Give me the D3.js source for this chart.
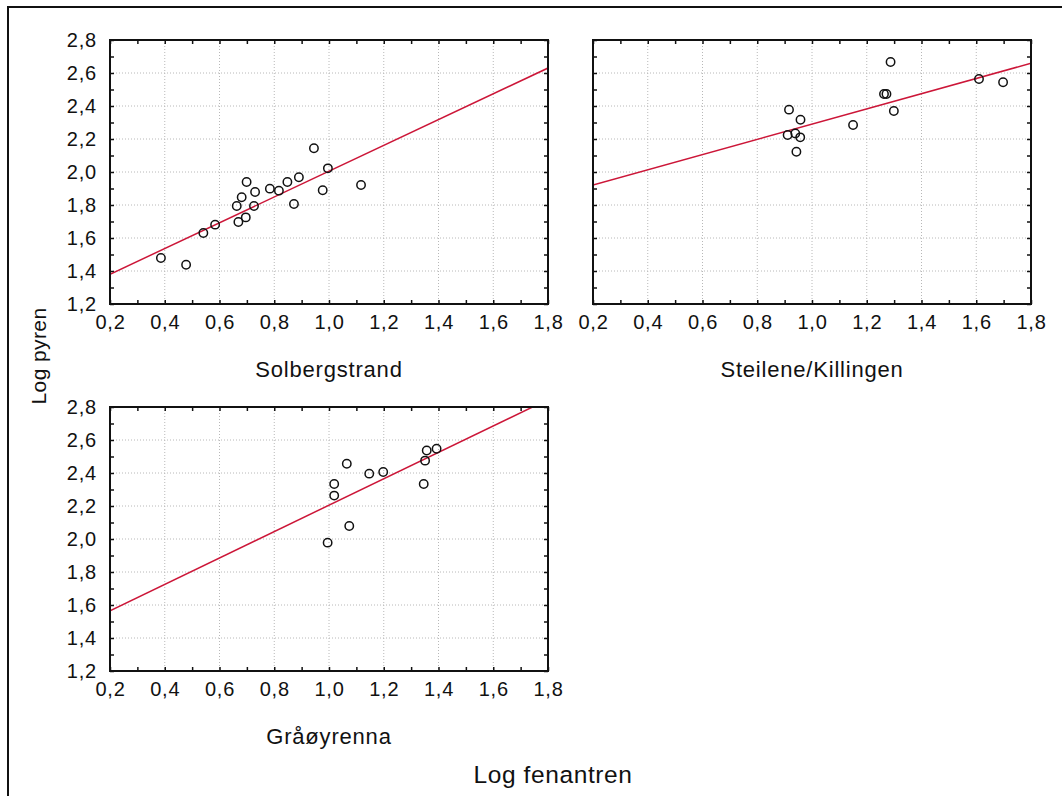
<!DOCTYPE html>
<html>
<head>
<meta charset="utf-8">
<script src="https://cdn.jsdelivr.net/npm/d3@7"></script>
<style>
  html, body { margin: 0; padding: 0; background: #fff; }
  svg { display: block; font-family: "Liberation Sans", Arial, sans-serif; }
</style>
</head>
<body>
<svg id="chart" width="1062" height="796"></svg>
<script>
// Station names (one panel each)
const stations = ["Solbergstrand", "Steilene/Killingen", "Gråøyrenna"];

// Log fenantren / Log pyren per station
const solbergX = [0.386, 0.478, 0.541, 0.584, 0.669, 0.663, 0.681, 0.699, 0.730, 0.726, 0.696, 0.784, 0.817, 0.848, 0.890, 0.872, 0.945, 0.977, 0.996, 1.117];
const solbergY = [1.479, 1.438, 1.630, 1.681, 1.697, 1.794, 1.847, 1.939, 1.879, 1.794, 1.725, 1.899, 1.887, 1.939, 1.968, 1.806, 2.144, 1.889, 2.022, 1.921];

const steileneX = [0.916, 0.958, 0.911, 0.939, 0.957, 0.943, 1.150, 1.263, 1.272, 1.287, 1.299, 1.610, 1.698];
const steileneY = [2.378, 2.317, 2.224, 2.234, 2.210, 2.123, 2.285, 2.473, 2.473, 2.667, 2.370, 2.564, 2.544];

const graaX = [0.995, 1.074, 1.019, 1.019, 1.065, 1.147, 1.198, 1.346, 1.351, 1.357, 1.393];
const graaY = [1.978, 2.079, 2.263, 2.333, 2.456, 2.396, 2.406, 2.333, 2.475, 2.536, 2.547];

// Fitted regression lines: [y at x=0.2, y at x=1.8]
const fitSolberg = [1.380, 2.630];
const fitSteilene = [1.921, 2.659];
const fitGraa = [1.565, 2.845];
const fitRange = [0.2, 1.8];

// Axis ticks
const xTicks = [0.2, 0.4, 0.6, 0.8, 1.0, 1.2, 1.4, 1.6, 1.8];
const yTicks = [1.2, 1.4, 1.6, 1.8, 2.0, 2.2, 2.4, 2.6, 2.8];
const xTitle = "Log fenantren";
const yTitle = "Log pyren";

const fmt = d3.formatLocale({ decimal: ",", thousands: " ", grouping: [3], currency: ["", ""] }).format(".1f");

const svg = d3.select("#chart");

// Outer frame
svg.append("rect")
  .attr("x", 8).attr("y", 7).attr("width", 1070).attr("height", 810)
  .attr("fill", "#fff").attr("stroke", "#111").attr("stroke-width", 2);

const panels = [
  { name: stations[0], xs: solbergX, ys: solbergY, fit: fitSolberg, left: 110, right: 548, top: 40, bottom: 304, yLabels: true },
  { name: stations[1], xs: steileneX, ys: steileneY, fit: fitSteilene, left: 593, right: 1031, top: 40, bottom: 304, yLabels: false },
  { name: stations[2], xs: graaX, ys: graaY, fit: fitGraa, left: 110, right: 548, top: 407, bottom: 671, yLabels: true }
];

const minorX = d3.range(2, 19).map(d => d / 10);
const minorY = d3.range(12, 29).map(d => d / 10);

panels.forEach((p, i) => {
  const x = d3.scaleLinear().domain([0.2, 1.8]).range([p.left, p.right]);
  const y = d3.scaleLinear().domain([1.2, 2.8]).range([p.bottom, p.top]);
  const w = p.right - p.left, h = p.bottom - p.top;
  const g = svg.append("g");

  // Dotted grid
  g.append("g").selectAll("line").data(xTicks.slice(1, -1)).join("line")
    .attr("x1", d => x(d)).attr("x2", d => x(d)).attr("y1", p.top).attr("y2", p.bottom)
    .attr("stroke", "#b8b8b8").attr("stroke-width", 1).attr("stroke-dasharray", "1,2");
  g.append("g").selectAll("line").data(yTicks.slice(1, -1)).join("line")
    .attr("y1", d => y(d)).attr("y2", d => y(d)).attr("x1", p.left).attr("x2", p.right)
    .attr("stroke", "#b8b8b8").attr("stroke-width", 1).attr("stroke-dasharray", "1,2");

  // Inward ticks on all four sides (every 0.1)
  const tickLen = 4;
  const axisStyle = sel => {
    sel.select(".domain").remove();
    sel.selectAll(".tick line").attr("stroke", "#111").attr("stroke-width", 1.5);
    sel.selectAll(".tick text").remove();
  };
  g.append("g").attr("transform", `translate(0,${p.bottom})`)
    .call(d3.axisTop(x).tickValues(minorX).tickSize(tickLen)).call(axisStyle);
  g.append("g").attr("transform", `translate(0,${p.top})`)
    .call(d3.axisBottom(x).tickValues(minorX).tickSize(tickLen)).call(axisStyle);
  g.append("g").attr("transform", `translate(${p.left},0)`)
    .call(d3.axisRight(y).tickValues(minorY).tickSize(tickLen)).call(axisStyle);
  g.append("g").attr("transform", `translate(${p.right},0)`)
    .call(d3.axisLeft(y).tickValues(minorY).tickSize(tickLen)).call(axisStyle);

  // Tick labels
  const xl = g.append("g").attr("transform", `translate(0,${p.bottom})`)
    .call(d3.axisBottom(x).tickValues(xTicks).tickSize(0).tickPadding(25).tickFormat(fmt));
  xl.select(".domain").remove();
  xl.selectAll("text").attr("font-size", 20).attr("fill", "#111")
    .attr("font-family", "Liberation Sans, Arial, sans-serif").attr("letter-spacing", 0.8).attr("dy", 0);

  if (p.yLabels) {
    const yl = g.append("g").attr("transform", `translate(${p.left},0)`)
      .call(d3.axisLeft(y).tickValues(yTicks).tickSize(0).tickPadding(13).tickFormat(fmt));
    yl.select(".domain").remove();
    yl.selectAll("text").attr("font-size", 20).attr("fill", "#111")
      .attr("font-family", "Liberation Sans, Arial, sans-serif").attr("letter-spacing", 0.8);
  }

  // Regression line, clipped to plot area
  const clipId = "clip" + i;
  svg.append("clipPath").attr("id", clipId).append("rect")
    .attr("x", p.left).attr("y", p.top).attr("width", w).attr("height", h);
  const lineGen = d3.line().x(d => x(d[0])).y(d => y(d[1]));
  g.append("path")
    .datum([[fitRange[0], p.fit[0]], [fitRange[1], p.fit[1]]])
    .attr("d", lineGen).attr("clip-path", `url(#${clipId})`)
    .attr("fill", "none").attr("stroke", "#cc1638").attr("stroke-width", 1.5);

  // Data points
  g.append("g").selectAll("circle").data(p.xs.map((v, k) => [v, p.ys[k]])).join("circle")
    .attr("cx", d => x(d[0])).attr("cy", d => y(d[1])).attr("r", 4.2)
    .attr("fill", "none").attr("stroke", "#111").attr("stroke-width", 1.5);

  // Plot frame
  g.append("rect").attr("x", p.left).attr("y", p.top).attr("width", w).attr("height", h)
    .attr("fill", "none").attr("stroke", "#111").attr("stroke-width", 2);

  // Station label
  g.append("text").attr("x", (p.left + p.right) / 2).attr("y", p.bottom + 73)
    .attr("text-anchor", "middle").attr("font-size", 22).attr("letter-spacing", 0.8)
    .attr("fill", "#111").text(p.name);
});

// Axis titles
svg.append("text").attr("x", 553).attr("y", 783).attr("text-anchor", "middle")
  .attr("font-size", 24.5).attr("letter-spacing", 0.6).attr("fill", "#111").text(xTitle);
svg.append("text").attr("transform", "translate(46,356) rotate(-90)").attr("text-anchor", "middle")
  .attr("font-size", 21).attr("letter-spacing", 0.4).attr("fill", "#111").text(yTitle);
</script>
</body>
</html>
